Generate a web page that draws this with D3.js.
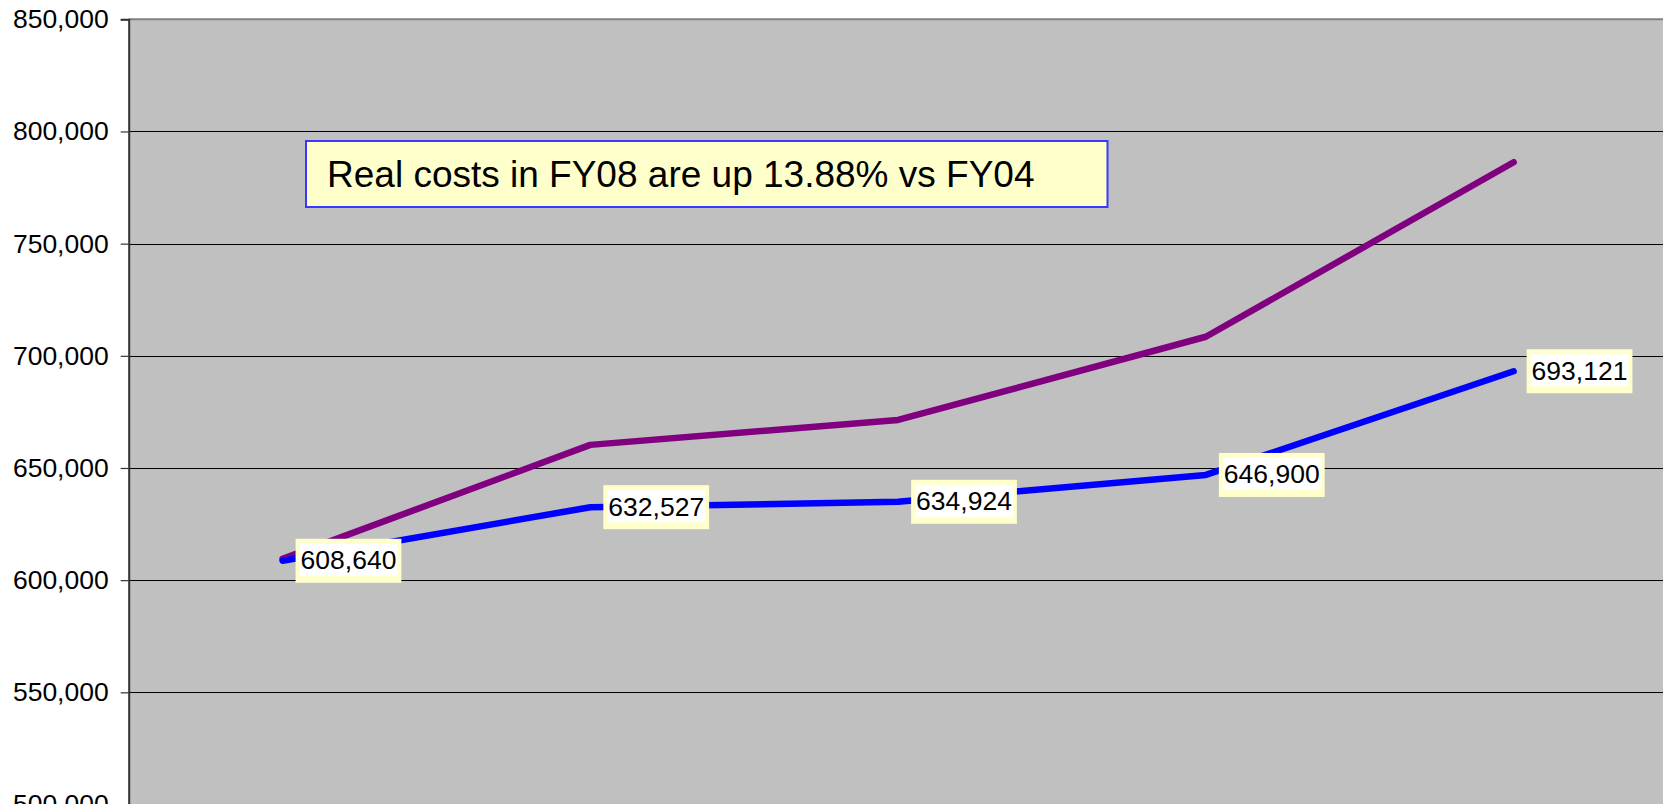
<!DOCTYPE html>
<html>
<head>
<meta charset="utf-8">
<script src="https://cdn.jsdelivr.net/npm/d3@7"></script>
<style>
  html, body { margin: 0; padding: 0; background: #fff; overflow: hidden; }
  svg { display: block; }
  text { font-family: "Liberation Sans", Arial, sans-serif; }
</style>
</head>
<body>
<svg id="chart" width="1663" height="804"></svg>
<script>
// ---- data ----
const categories = ["FY04", "FY05", "FY06", "FY07", "FY08"];
const realCosts = [608640, 632527, 634924, 646900, 693121];
const nominalCosts = [609500, 660300, 671400, 708500, 786300];
const yTicks = [500000, 550000, 600000, 650000, 700000, 750000, 800000, 850000];
const annotationText = "Real costs in FY08 are up 13.88% vs FY04";

// ---- layout ----
const W = 1663, H = 804;
const plotLeft = 128.7, plotTop = 19.3, plotRight = 1667.5, plotBottom = 804.5;

const svg = d3.select("#chart");

const x = d3.scalePoint().domain(categories).range([plotLeft, plotRight]).padding(0.5);
const y = d3.scaleLinear().domain([500000, 850000]).range([plotBottom, plotTop]);

// plot background
svg.append("rect")
  .attr("x", plotLeft).attr("y", plotTop)
  .attr("width", plotRight - plotLeft).attr("height", plotBottom - plotTop)
  .attr("fill", "#C0C0C0");

// gridlines
svg.append("g").selectAll("line")
  .data(yTicks.filter(d => d < 850000))
  .join("line")
  .attr("x1", plotLeft).attr("x2", W)
  .attr("y1", d => Math.round(y(d)) + 0.5).attr("y2", d => Math.round(y(d)) + 0.5)
  .attr("stroke", "#000").attr("stroke-width", 1);

// top border
svg.append("line")
  .attr("x1", plotLeft).attr("x2", W)
  .attr("y1", plotTop).attr("y2", plotTop)
  .attr("stroke", "#808080").attr("stroke-width", 2);

// y axis
const yAxis = d3.axisLeft(y)
  .tickValues(yTicks)
  .tickSize(8)
  .tickPadding(12)
  .tickFormat(d3.format(","));
const gy = svg.append("g").attr("transform", `translate(${plotLeft},0)`).call(yAxis);
gy.select(".domain").attr("stroke", "#333").attr("stroke-width", 2);
gy.selectAll(".tick line").attr("stroke", "#333").attr("stroke-width", 1.2);
gy.selectAll(".tick text")
  .attr("font-size", 26.5)
  .attr("fill", "#000")
  .style("font-family", '"Liberation Sans", Arial, sans-serif');

// lines
const line = d3.line().x((d, i) => x(categories[i])).y(d => y(d));

svg.append("path")
  .datum(nominalCosts)
  .attr("d", line)
  .attr("fill", "none")
  .attr("stroke", "#800080")
  .attr("stroke-width", 6.5)
  .attr("stroke-linecap", "round")
  .attr("stroke-linejoin", "round");

svg.append("path")
  .datum(realCosts)
  .attr("d", line)
  .attr("fill", "none")
  .attr("stroke", "#0000FF")
  .attr("stroke-width", 6.5)
  .attr("stroke-linecap", "round")
  .attr("stroke-linejoin", "round");

// data labels
const fmt = d3.format(",");
const labels = svg.append("g").selectAll("g")
  .data(realCosts)
  .join("g")
  .attr("transform", (d, i) => `translate(${x(categories[i]) + 13},${y(d)})`);

labels.each(function(d) {
  const g = d3.select(this);
  const outer = g.append("rect").attr("fill", "#FFFFCC");
  const inner = g.append("rect").attr("fill", "#FFFFFF");
  const t = g.append("text")
    .attr("font-size", 26.5)
    .attr("fill", "#000")
    .attr("x", 5)
    .attr("y", 8.5)
    .text(fmt(d));
  const tw = t.node().getComputedTextLength();
  outer.attr("x", 0).attr("y", -22).attr("width", tw + 10).attr("height", 44);
  inner.attr("x", 4).attr("y", -17).attr("width", tw + 2).attr("height", 32);
});

// annotation box
const ann = svg.append("g");
ann.append("rect")
  .attr("x", 306).attr("y", 141)
  .attr("width", 801.5).attr("height", 66)
  .attr("fill", "#FFFFCC")
  .attr("stroke", "#3838FF")
  .attr("stroke-width", 2);
ann.append("text")
  .attr("x", 327).attr("y", 186.5)
  .attr("font-size", 37)
  .attr("fill", "#000")
  .text(annotationText);
</script>
</body>
</html>
